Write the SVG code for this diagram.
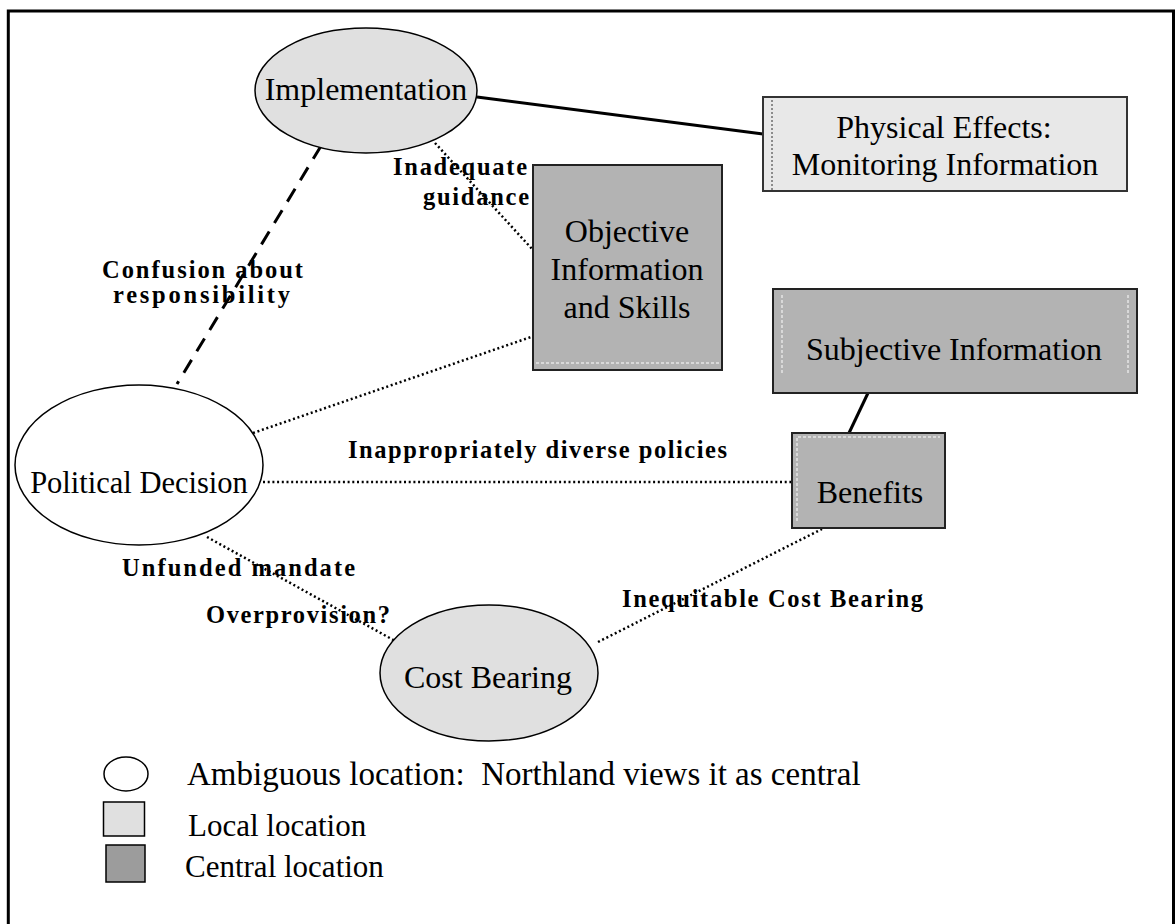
<svg xmlns="http://www.w3.org/2000/svg" width="1175" height="924" viewBox="0 0 1175 924">
<style>
  .node { font-family: "Liberation Serif", "Times New Roman", serif; font-size: 32px; fill: #000; text-anchor: middle; }
  .leg { font-family: "Liberation Serif", "Times New Roman", serif; font-size: 31px; fill: #000; }
  .lbl { font-family: "Liberation Serif", "Times New Roman", serif; font-size: 24.5px; font-weight: bold; fill: #000; }
  .light { fill: #e0e0e0; stroke: #000; stroke-width: 1.5; }
  .lightbox { fill: #e8e8e8; stroke: #333; stroke-width: 2; }
  .dark { fill: #b3b3b3; stroke: #222; stroke-width: 2; }
  .white { fill: #fff; stroke: #000; stroke-width: 1.5; }
  .solid { stroke: #000; stroke-width: 3; fill: none; }
  .dot { stroke: #000; stroke-width: 2.5; stroke-dasharray: 2 2.7; fill: none; }
  .dash { stroke: #000; stroke-width: 3; stroke-dasharray: 15 10; fill: none; }
  .inner { stroke: #fff; stroke-width: 1; stroke-dasharray: 3 2; fill: none; }
</style>
<rect x="0" y="0" width="1175" height="924" fill="#fff"/>
<rect x="8.3" y="11" width="1165.2" height="1000" fill="none" stroke="#000" stroke-width="3"/>

<g id="connectors">
  <line class="solid" x1="477" y1="97" x2="763" y2="134"/>
  <line class="solid" x1="868" y1="393" x2="849" y2="433"/>
  <line class="dash" x1="321" y1="146" x2="177" y2="384"/>
  <line class="dot" x1="435" y1="143" x2="533" y2="250"/>
  <line class="dot" x1="253" y1="433" x2="531" y2="337"/>
  <line class="dot" x1="263" y1="482" x2="792" y2="482"/>
  <line class="dot" x1="207" y1="537" x2="397" y2="642"/>
  <line class="dot" x1="598" y1="642" x2="822" y2="529"/>
</g>

<g id="labels">
  <text class="lbl" x="102" y="278" textLength="201" lengthAdjust="spacing">Confusion about</text>
  <text class="lbl" x="113" y="303" textLength="177" lengthAdjust="spacing">responsibility</text>
  <text class="lbl" x="393" y="175" textLength="134" lengthAdjust="spacing">Inadequate</text>
  <text class="lbl" x="423" y="205" textLength="106" lengthAdjust="spacing">guidance</text>
  <text class="lbl" x="348" y="458" textLength="379" lengthAdjust="spacing">Inappropriately diverse policies</text>
  <text class="lbl" x="122" y="576" textLength="233" lengthAdjust="spacing">Unfunded mandate</text>
  <text class="lbl" x="206" y="623" textLength="184" lengthAdjust="spacing">Overprovision?</text>
  <text class="lbl" x="622" y="607" textLength="301" lengthAdjust="spacing">Inequitable Cost Bearing</text>
</g>

<g id="implementation">
  <ellipse class="light" cx="366" cy="90.5" rx="111" ry="62.5"/>
  <text class="node" x="366" y="100">Implementation</text>
</g>

<g id="physical-effects">
  <rect class="lightbox" x="763" y="97" width="364" height="94"/>
  <line x1="772" y1="100" x2="772" y2="190" stroke="#000" stroke-width="0.8" stroke-dasharray="2 2"/>
  <text class="node" x="944" y="138">Physical Effects:</text>
  <text class="node" x="945" y="175">Monitoring Information</text>
</g>

<g id="objective-information">
  <rect class="dark" x="533" y="165" width="189" height="205"/>
  <line class="inner" x1="536" y1="363" x2="719" y2="363"/>
  <text class="node" x="627" y="242">Objective</text>
  <text class="node" x="627" y="280">Information</text>
  <text class="node" x="627" y="318">and Skills</text>
</g>

<g id="subjective-information">
  <rect class="dark" x="773" y="289" width="364" height="104"/>
  <line class="inner" x1="782" y1="295" x2="782" y2="375"/>
  <line class="inner" x1="1128" y1="295" x2="1128" y2="375"/>
  <text class="node" x="954" y="360">Subjective Information</text>
</g>

<g id="benefits">
  <rect class="dark" x="792" y="433" width="153" height="95"/>
  <polyline class="inner" points="797,521 797,437 940,437"/>
  <text class="node" x="870" y="503">Benefits</text>
</g>

<g id="political-decision">
  <ellipse class="white" cx="139" cy="465" rx="124" ry="80"/>
  <text class="node" x="139" y="493" style="font-size:30.5px">Political Decision</text>
</g>

<g id="cost-bearing">
  <ellipse class="light" cx="489" cy="673" rx="109" ry="68"/>
  <text class="node" x="488" y="688">Cost Bearing</text>
</g>

<g id="legend">
  <ellipse class="white" cx="126" cy="774" rx="22" ry="17"/>
  <rect x="103.5" y="802" width="41" height="34" fill="#e0e0e0" stroke="#000" stroke-width="1.5"/>
  <rect x="106" y="845" width="39" height="37" fill="#9c9c9c" stroke="#000" stroke-width="1.5"/>
  <text class="leg" x="187" y="785" style="font-size:33px" xml:space="preserve">Ambiguous location:  Northland views it as central</text>
  <text class="leg" x="188" y="836">Local location</text>
  <text class="leg" x="185" y="877">Central location</text>
</g>
</svg>
